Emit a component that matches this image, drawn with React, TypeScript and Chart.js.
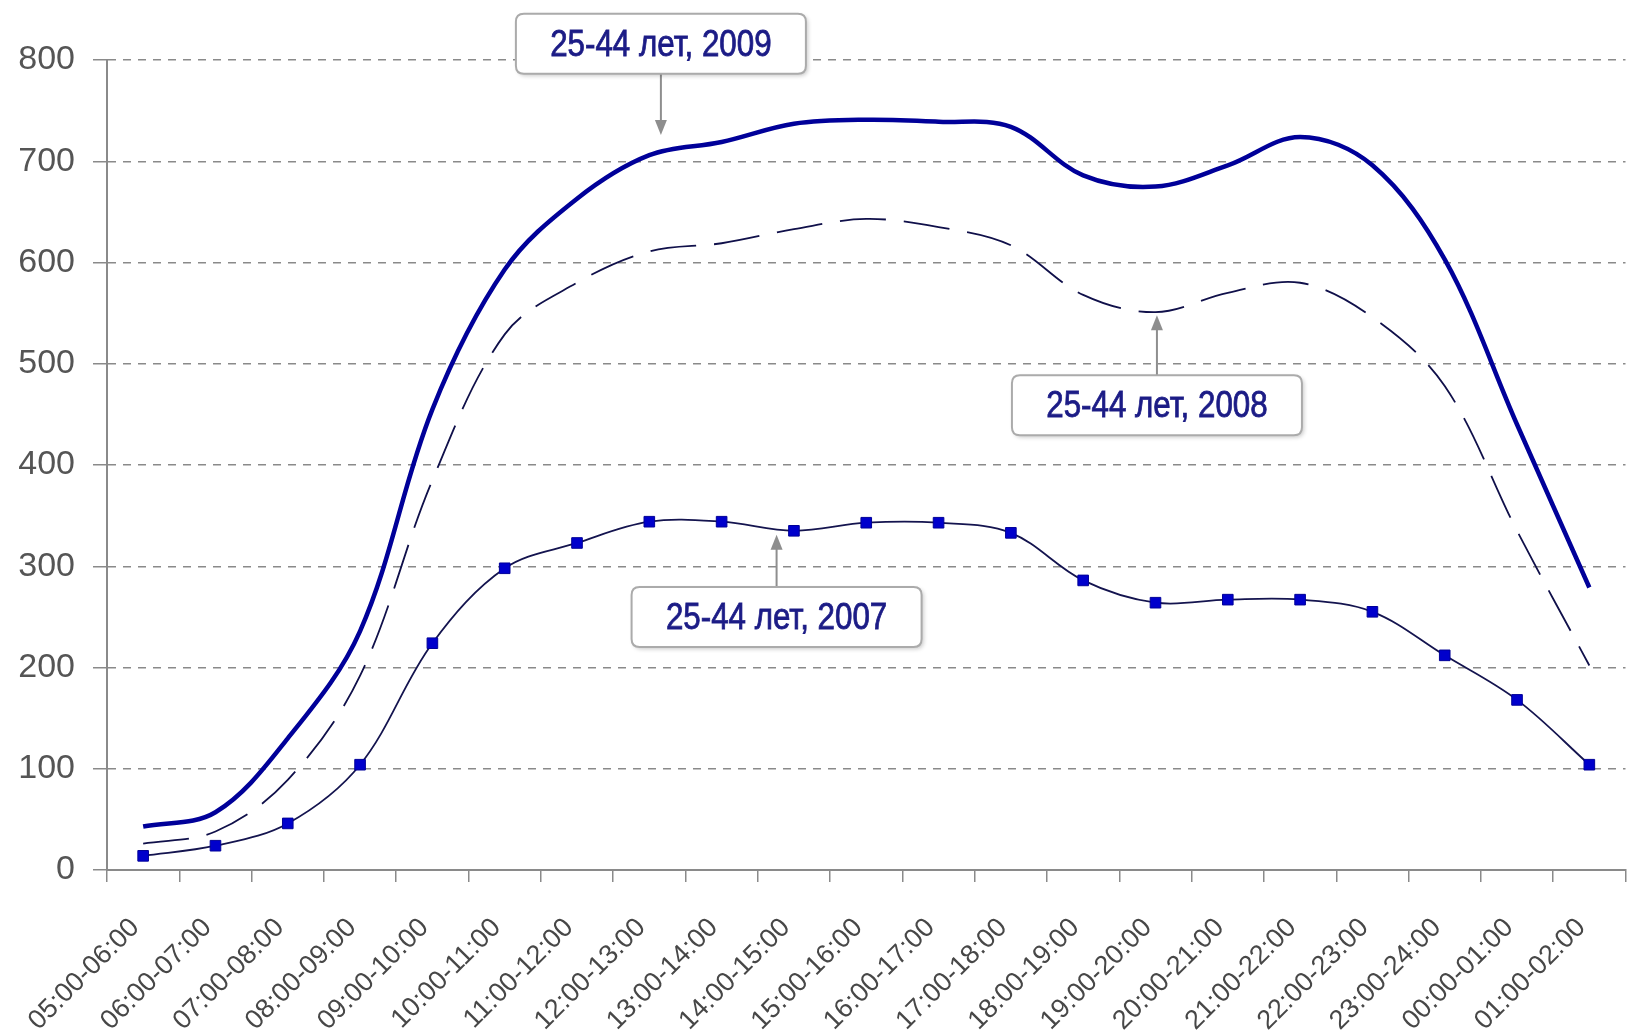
import React, { useEffect, useRef } from 'react';
import { Chart, registerables } from 'chart.js';

Chart.register(...registerables);

// ---------- data ----------
const hourLabels = [
  '05:00-06:00', '06:00-07:00', '07:00-08:00', '08:00-09:00', '09:00-10:00',
  '10:00-11:00', '11:00-12:00', '12:00-13:00', '13:00-14:00', '14:00-15:00',
  '15:00-16:00', '16:00-17:00', '17:00-18:00', '18:00-19:00', '19:00-20:00',
  '20:00-21:00', '21:00-22:00', '22:00-23:00', '23:00-24:00', '00:00-01:00',
  '01:00-02:00',
];

const values2009 = [43, 57, 130, 236, 455, 593, 663, 706, 719, 737, 741, 739, 734, 686, 675, 696, 724, 696, 603, 440, 279];
const values2008 = [26, 38, 89, 192, 385, 529, 580, 611, 619, 633, 643, 635, 617, 568, 551, 570, 580, 546, 478, 335, 202];
const values2007 = [14, 24, 46, 104, 224, 298, 323, 344, 344, 335, 343, 343, 333, 286, 264, 267, 267, 255, 212, 168, 104];

const yMin = 0;
const yMax = 800;
const yStep = 100;

// callouts: text, arrow tip (category index, value), box centre value
const calloutTexts = ['25-44 лет, 2009', '25-44 лет, 2008', '25-44 лет, 2007'];
const calloutIndex = [7.16, 14.02, 8.76];
const calloutTipValue = [726, 548, 331];
const calloutBoxValue = [816, 459, 250];

const FONT = "'Liberation Sans', Arial, sans-serif";

const calloutPlugin = {
  id: 'callouts',
  afterDatasetsDraw(chart: any) {
    const { ctx } = chart;
    const xs = chart.scales.x;
    const ys = chart.scales.y;
    const w = 290;
    const h = 60;
    const r = 8;
    calloutTexts.forEach((text, i) => {
      const px = xs.getPixelForValue(calloutIndex[i]);
      const tipY = ys.getPixelForValue(calloutTipValue[i]);
      const cy = ys.getPixelForValue(calloutBoxValue[i]);
      const left = px - w / 2;
      const top = cy - h / 2;

      // arrow
      const fromY = tipY < top ? top : top + h;
      const dir = tipY < fromY ? -1 : 1;
      ctx.save();
      ctx.strokeStyle = '#8e8e8e';
      ctx.fillStyle = '#8e8e8e';
      ctx.lineWidth = 2;
      ctx.beginPath();
      ctx.moveTo(px, fromY);
      ctx.lineTo(px, tipY - dir * 10);
      ctx.stroke();
      ctx.beginPath();
      ctx.moveTo(px, tipY);
      ctx.lineTo(px - 6, tipY - dir * 15);
      ctx.lineTo(px + 6, tipY - dir * 15);
      ctx.closePath();
      ctx.fill();
      ctx.restore();

      // box
      ctx.save();
      const path = () => {
        ctx.beginPath();
        ctx.moveTo(left + r, top);
        ctx.lineTo(left + w - r, top);
        ctx.quadraticCurveTo(left + w, top, left + w, top + r);
        ctx.lineTo(left + w, top + h - r);
        ctx.quadraticCurveTo(left + w, top + h, left + w - r, top + h);
        ctx.lineTo(left + r, top + h);
        ctx.quadraticCurveTo(left, top + h, left, top + h - r);
        ctx.lineTo(left, top + r);
        ctx.quadraticCurveTo(left, top, left + r, top);
        ctx.closePath();
      };
      path();
      ctx.shadowColor = 'rgba(0,0,0,0.22)';
      ctx.shadowBlur = 4;
      ctx.shadowOffsetX = 2;
      ctx.shadowOffsetY = 2;
      ctx.fillStyle = '#ffffff';
      ctx.fill();
      ctx.shadowColor = 'rgba(0,0,0,0)';
      ctx.lineWidth = 2;
      ctx.strokeStyle = '#ababab';
      path();
      ctx.stroke();

      // text
      ctx.font = `36px ${FONT}`;
      ctx.fillStyle = '#1c1c86';
      ctx.strokeStyle = '#1c1c86';
      ctx.lineWidth = 0.8;
      ctx.textAlign = 'center';
      ctx.textBaseline = 'middle';
      ctx.translate(px, cy + 2);
      ctx.scale(0.87, 1);
      ctx.fillText(text, 0, 0);
      ctx.strokeText(text, 0, 0);
      ctx.restore();
    });
  },
};

const CANVAS_W = 1634;
const CANVAS_H = 1030;

export default function App() {
  const canvasRef = useRef<HTMLCanvasElement | null>(null);

  useEffect(() => {
    const canvas = canvasRef.current;
    if (!canvas) return;
    const chart = new Chart(canvas, {
      type: 'line',
      data: {
        labels: hourLabels,
        datasets: [
          {
            label: '25-44 лет, 2009',
            data: values2009,
            borderColor: '#000099',
            borderWidth: 4.5,
            pointRadius: 0,
            tension: 0.35,
            fill: false,
          },
          {
            label: '25-44 лет, 2008',
            data: values2008,
            borderColor: '#10104a',
            borderWidth: 1.8,
            borderDash: [46, 18],
            pointRadius: 0,
            tension: 0.35,
            fill: false,
          },
          {
            label: '25-44 лет, 2007',
            data: values2007,
            borderColor: '#14144f',
            borderWidth: 1.8,
            pointStyle: 'rect',
            pointRadius: 7.5,
            pointBackgroundColor: '#0000cc',
            pointBorderColor: '#000099',
            pointBorderWidth: 1,
            tension: 0.35,
            fill: false,
          },
        ],
      },
      options: {
        responsive: false,
        animation: false,
        events: [],
        layout: { padding: { top: 60, right: 2, left: 0, bottom: 0 } },
        plugins: {
          legend: { display: false },
          tooltip: { enabled: false },
          title: { display: false },
        },
        scales: {
          x: {
            type: 'category',
            offset: true,
            grid: {
              offset: true,
              drawOnChartArea: false,
              drawTicks: true,
              tickLength: 12,
              color: '#8a8a8a',
              tickColor: '#8a8a8a',
              lineWidth: 1.5,
            },
            border: { display: true, color: '#8a8a8a', width: 2 },
            ticks: {
              autoSkip: false,
              minRotation: 45,
              maxRotation: 45,
              padding: 30,
              labelOffset: -8,
              color: '#474747',
              font: { family: FONT, size: 27 },
            },
            afterFit: (scale: any) => {
              scale.height = 160;
              scale.paddingLeft = 0;
              scale.paddingRight = 0;
            },
          },
          y: {
            min: yMin,
            max: yMax,
            ticks: {
              stepSize: yStep,
              padding: 18,
              color: '#555555',
              font: { family: FONT, size: 34 },
            },
            grid: {
              color: (c: any) => (c.tick && c.tick.value === 0 ? 'rgba(0,0,0,0)' : '#8a8a8a'),
              lineWidth: 1.5,
              tickLength: 14,
              tickColor: '#8a8a8a',
              tickBorderDash: [],
            },
            border: { display: true, color: '#8a8a8a', width: 2, dash: [8, 7] },
            afterFit: (scale: any) => {
              scale.width = 107;
            },
          },
        },
      },
      plugins: [calloutPlugin],
    });
    return () => chart.destroy();
  }, []);

  return (
    <div style={{ position: 'absolute', left: 0, top: 0, width: 1629, height: 1030, overflow: 'hidden', background: '#ffffff' }}>
      <canvas ref={canvasRef} width={CANVAS_W} height={CANVAS_H} style={{ display: 'block', width: CANVAS_W, height: CANVAS_H }} />
    </div>
  );
}
